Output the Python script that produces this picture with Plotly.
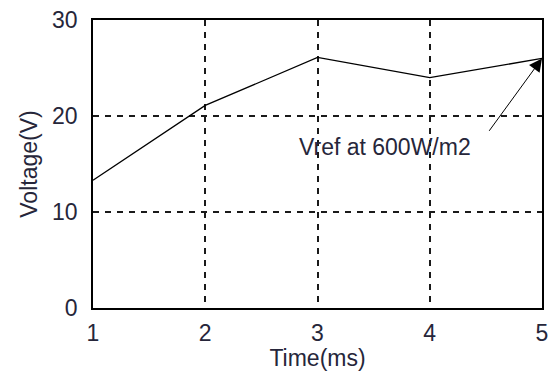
import plotly.graph_objects as go

# Reference voltage trace sampled once per millisecond
time_ms = [1, 2, 3, 4, 5]
voltage_v = [13.3, 21.1, 26.1, 24.0, 26.0]

x_ticks = [1, 2, 3, 4, 5]
y_ticks = [0, 10, 20, 30]

label_text = "Vref at 600W/m2"

FONT = "Liberation Sans, Arial, sans-serif"
TXT = "#26263a"
FS = 23

fig = go.Figure()
fig.add_trace(go.Scatter(
    x=time_ms, y=voltage_v, mode="lines",
    line=dict(color="black", width=1.3),
    showlegend=False, hoverinfo="skip",
))

axis_common = dict(
    showgrid=True, gridcolor="#1a1a1a", griddash="6px,6px", gridwidth=1.5,
    showline=True, linecolor="black", linewidth=1.8, mirror=True,
    zeroline=False, ticks="", tickfont=dict(family=FONT, size=FS, color=TXT),
)

fig.update_xaxes(
    range=[1, 5], tickvals=x_ticks, ticklabelstandoff=3,
    title=dict(text="Time(ms)", font=dict(family=FONT, size=FS, color=TXT), standoff=3),
    **axis_common,
)
fig.update_yaxes(
    range=[0, 30], tickvals=y_ticks, ticklabelstandoff=9,
    title=dict(text="Voltage(V)", font=dict(family=FONT, size=FS, color=TXT), standoff=8),
    **axis_common,
)

# Arrow pointing to the last sample, with its label below-left
fig.add_annotation(
    x=time_ms[-1], y=voltage_v[-1], xref="x", yref="y",
    ax=4.52, ay=18.3, axref="x", ayref="y",
    text="", showarrow=True, arrowhead=2, arrowsize=2.6, arrowwidth=1.0,
    arrowcolor="black",
)
fig.add_annotation(
    x=2.82, y=16.8, xref="x", yref="y", xanchor="left", yanchor="middle",
    text=label_text, showarrow=False,
    font=dict(family=FONT, size=FS, color=TXT),
)

fig.update_layout(
    width=555, height=378,
    margin=dict(l=93, r=7, t=20, b=70),
    paper_bgcolor="white", plot_bgcolor="white",
)

fig.write_html("out.html")
